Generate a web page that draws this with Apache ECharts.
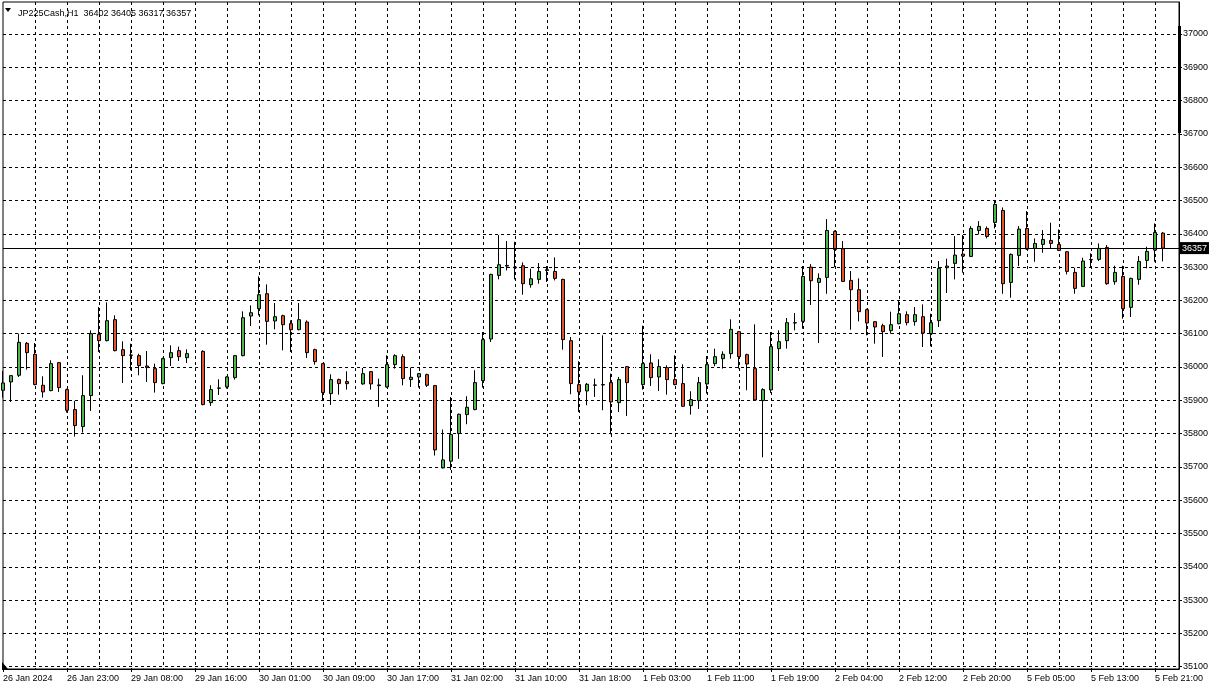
<!DOCTYPE html>
<html><head><meta charset="utf-8">
<script src="https://cdn.jsdelivr.net/npm/echarts@6/dist/echarts.min.js"></script>
<style>html,body{margin:0;padding:0;background:#fff}#c{width:1218px;height:688px}</style>
</head><body><div id="c"></div>
<script>
const titleText = 'JP225Cash,H1  36402 36405 36317 36357';
const firstLabel = '26 Jan 2024';
const daySessions = [['26 Jan',15,23],['29 Jan',1,23],['30 Jan',1,23],['31 Jan',1,23],['1 Feb',1,23],['2 Feb',1,23],['5 Feb',1,23],['6 Feb',1,1]];
const yTicks = [35100,35200,35300,35400,35500,35600,35700,35800,35900,36000,36100,36200,36300,36400,36500,36600,36700,36800,36900,37000];
const lastPrice = 36357;
const invisibleDoji = [24, 44, 79];

const opens = [35930,35955,35975,36071,36038,35945,35929,36013,35932,35872,
35821,35914,36098,36079,36142,36052,36036,36034,36003,35995,
35950,36028,36049,36028,36001,36047,35893,35936,35940,35968,
36034,36153,36175,36220,36138,36154,36130,36112,36135,36052,
36010,35920,35962,35956,35950,35949,35986,35944,35940,36007,
36031,35962,35970,35977,35944,35697,35717,35800,35857,35872,
35959,36084,36275,36303,36300,36304,36247,36263,36292,36287,
36263,36079,35947,35928,35945,35947,35953,35893,36001,35950,
35947,36012,35970,35998,35962,35950,35884,35899,35949,36010,
36025,36040,36106,36037,35995,35899,35931,36055,36079,36132,
36137,36300,36254,36269,36407,36355,36260,36232,36172,36136,
36124,36109,36130,36157,36136,36151,36100,36139,36298,36311,
36339,36332,36410,36416,36434,36470,36254,36335,36416,36356,
36368,36380,36368,36346,36284,36242,36322,36323,36359,36256,
36272,36179,36263,36320,36351,36402];
const highs = [35988,35975,36100,36075,36072,35972,36020,36015,35935,35898,
35975,36110,36180,36194,36155,36077,36070,36040,36048,36010,
36028,36065,36061,36053,36082,36050,35945,35963,35972,36036,
36167,36185,36272,36248,36192,36157,36140,36192,36140,36055,
36012,35978,35965,35987,35965,35997,35988,35965,36035,36038,
36038,35998,35982,35980,35946,35812,35910,35860,35912,35990,
36105,36280,36396,36378,36376,36314,36295,36312,36303,36329,
36265,36090,36017,35952,35965,36095,35980,35970,36003,36105,
36124,36038,36023,36005,36035,36008,35927,35970,36033,36055,
36047,36143,36108,36040,36128,35936,36105,36110,36147,36162,
36303,36309,36281,36444,36410,36378,36288,36266,36175,36138,
36130,36166,36198,36167,36180,36188,36160,36318,36325,36393,
36396,36423,36438,36422,36500,36479,36341,36423,36468,36386,
36411,36433,36413,36348,36298,36328,36341,36371,36366,36304,
36304,36268,36333,36361,36431,36405];
const lows = [35908,35895,35970,35992,35945,35908,35927,35925,35863,35791,
35803,35868,36045,36077,36047,35952,35990,35975,35955,35923,
35948,36003,36018,36012,35995,35885,35883,35916,35935,35962,
36032,36123,36155,36067,36113,36050,36045,36110,36027,36007,
35900,35886,35917,35932,35940,35947,35932,35880,35938,35995,
35945,35940,35938,35940,35734,35695,35691,35724,35828,35870,
35938,36075,36263,36290,36263,36217,36238,36250,36255,36260,
36052,35918,35865,35885,35910,35870,35798,35865,35853,35940,
35932,35943,35928,35917,35945,35880,35857,35874,35920,36002,
35995,36025,35995,35930,35899,35729,35922,35988,36055,36110,
36115,36186,36072,36220,36300,36255,36112,36137,36095,36070,
36030,36100,36128,36125,36124,36060,36062,36120,36222,36263,
36283,36330,36398,36386,36416,36220,36208,36303,36352,36316,
36343,36356,36348,36278,36220,36240,36300,36318,36247,36247,
36145,36150,36247,36296,36316,36317];
const closes = [35952,35974,36074,36043,35947,35925,36010,35938,35870,35824,
35914,36100,36079,36139,36049,36034,36035,36004,35998,35953,
36025,36043,36031,36040,36001,35887,35932,35937,35970,36034,
36148,36163,36217,36137,36151,36127,36112,36142,36043,36016,
35923,35962,35950,35950,35950,35980,35949,35946,36007,36034,
35965,35969,35980,35945,35751,35721,35797,35858,35879,35953,
36082,36278,36307,36305,36298,36250,36265,36287,36290,36266,
36082,35950,35925,35948,35946,35946,35895,35962,35953,35950,
36010,35968,36001,35962,35947,35882,35902,35953,36007,36031,
36038,36113,36031,36009,35901,35932,36061,36076,36133,36133,
36272,36259,36266,36410,36353,36257,36232,36166,36132,36120,
36106,36127,36160,36133,36157,36102,36133,36296,36303,36336,
36333,36416,36422,36392,36488,36250,36338,36414,36354,36371,
36383,36371,36350,36287,36236,36318,36323,36356,36250,36284,
36175,36266,36317,36347,36404,36357];

const pad = h => (h < 10 ? '0' : '') + h;
const categories = [];
daySessions.forEach(([d, a, b]) => { for (let h = a; h <= b; h++) categories.push(d + ' ' + pad(h) + ':00'); });

const FONT = 'Liberation Sans, Arial, sans-serif';
const white = {color:'#fff', color0:'#fff', borderColor:'#fff', borderColor0:'#fff'};
const candleData = opens.map((o, i) => {
  const v = [o, closes[i], lows[i], highs[i]];
  return invisibleDoji.indexOf(i) >= 0 ? {value: v, itemStyle: white} : v;
});

const chart = echarts.init(document.getElementById('c'), null, {renderer: 'canvas'});
chart.setOption({
  animation: false,
  backgroundColor: '#fff',
  title: {
    text: titleText, left: 13, top: 4,
    textStyle: {fontSize: 9, fontWeight: 'normal', color: '#000', fontFamily: FONT}
  },
  grid: {left: 2, right: 39, top: 2, bottom: 19, show: true, borderColor: '#000', borderWidth: 1, backgroundColor: '#fff'},
  xAxis: {
    type: 'category', data: categories, boundaryGap: false,
    axisLine: {lineStyle: {color: '#000', width: 1}},
    axisTick: {show: true, interval: i => i % 8 === 0, length: 3, lineStyle: {color: '#000'}},
    axisLabel: {
      interval: i => i % 8 === 0, align: 'left', margin: 5, fontSize: 9, color: '#000', fontFamily: FONT,
      formatter: (v, i) => i === 0 ? firstLabel : v
    },
    splitLine: {show: true, interval: i => i > 0 && i % 4 === 0, lineStyle: {color: '#000', type: [3, 3], width: 1}}
  },
  yAxis: {
    type: 'value', position: 'right', min: 35093, max: 37096, scale: true,
    axisLine: {show: true, lineStyle: {color: '#000'}},
    axisTick: {show: true, customValues: yTicks, length: 3, lineStyle: {color: '#000'}},
    axisLabel: {customValues: yTicks, margin: 4, fontSize: 9, color: '#000', fontFamily: FONT, formatter: v => String(v)},
    splitLine: {show: true, lineStyle: {color: '#000', type: [3, 3], width: 1}}
  },
  graphic: [
    {type: 'polygon', shape: {points: [[5, 8], [11, 8], [8, 12]]}, style: {fill: '#000'}},
    {type: 'rect', shape: {x: 1178, y: 26, width: 3, height: 107}, style: {fill: '#000'}},
    {type: 'polygon', shape: {points: [[2, 662], [2, 670], [8, 669]]}, style: {fill: '#000'}}
  ],
  series: [{
    type: 'candlestick', data: candleData, barWidth: 4,
    itemStyle: {color: '#4cb84c', color0: '#e0542c', borderColor: '#000', borderColor0: '#000', borderWidth: 1},
    markLine: {
      silent: true, symbol: ['none', 'none'],
      lineStyle: {color: '#000', width: 1, type: 'solid'},
      label: {position: 'end', distance: 1, formatter: String(lastPrice), backgroundColor: '#000', color: '#fff', fontSize: 9, fontFamily: FONT, padding: [2, 2, 1, 2]},
      data: [{yAxis: lastPrice}]
    }
  }]
});
</script></body></html>
